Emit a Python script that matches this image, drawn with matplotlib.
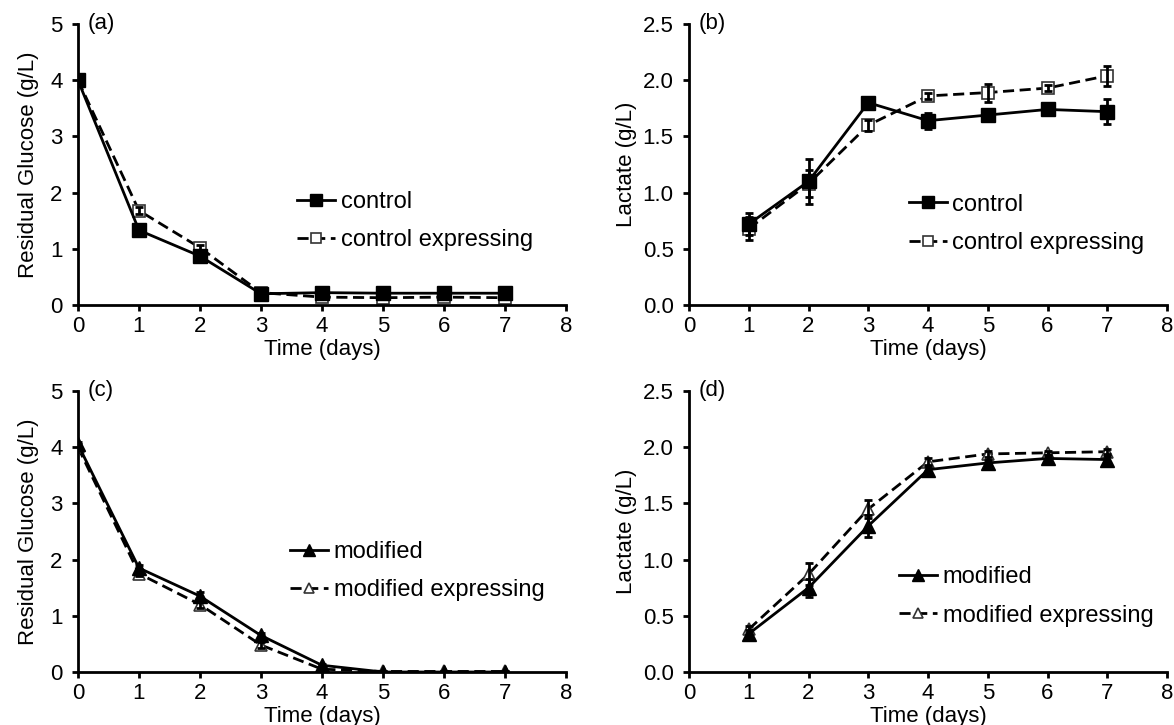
import numpy as np
import matplotlib.pyplot as plt
from matplotlib.lines import Line2D
from matplotlib.ticker import FormatStrFormatter

plt.rcParams['font.family'] = ['Liberation Sans', 'DejaVu Sans']
plt.rcParams['font.size'] = 16

# glucose, days 0-7
t_glu = [0, 1, 2, 3, 4, 5, 6, 7]
glu_ctrl = [4.0, 1.33, 0.87, 0.20, 0.22, 0.21, 0.21, 0.21]
glu_ctrl_err = [0.05, 0.06, 0.07, 0.04, 0.03, 0.03, 0.03, 0.03]
glu_ctrl_exp = [4.0, 1.68, 1.02, 0.22, 0.14, 0.13, 0.14, 0.13]
glu_ctrl_exp_err = [0.05, 0.06, 0.05, 0.03, 0.02, 0.02, 0.02, 0.02]
glu_mod = [4.05, 1.85, 1.35, 0.65, 0.12, 0.0, 0.0, 0.0]
glu_mod_err = [0.05, 0.06, 0.08, 0.05, 0.03, 0.01, 0.01, 0.01]
glu_mod_exp = [4.0, 1.75, 1.20, 0.48, 0.05, 0.01, 0.01, 0.01]
glu_mod_exp_err = [0.05, 0.05, 0.06, 0.05, 0.02, 0.01, 0.01, 0.01]

# lactate, days 1-7
t_lac = [1, 2, 3, 4, 5, 6, 7]
lac_ctrl = [0.72, 1.10, 1.80, 1.64, 1.69, 1.74, 1.72]
lac_ctrl_err = [0.10, 0.20, 0.04, 0.07, 0.03, 0.03, 0.11]
lac_ctrl_exp = [0.68, 1.08, 1.60, 1.86, 1.89, 1.93, 2.04]
lac_ctrl_exp_err = [0.10, 0.12, 0.05, 0.03, 0.08, 0.03, 0.09]
lac_mod = [0.34, 0.75, 1.30, 1.80, 1.86, 1.90, 1.89]
lac_mod_err = [0.03, 0.08, 0.10, 0.03, 0.03, 0.03, 0.03]
lac_mod_exp = [0.38, 0.87, 1.45, 1.87, 1.94, 1.95, 1.96]
lac_mod_exp_err = [0.03, 0.10, 0.08, 0.03, 0.03, 0.02, 0.02]

fig = plt.figure(figsize=(11.74, 7.25), dpi=100)
ax_a = fig.add_axes([0.0664, 0.5793, 0.4157, 0.3876])
ax_b = fig.add_axes([0.5869, 0.5793, 0.4072, 0.3876])
ax_c = fig.add_axes([0.0664, 0.0731, 0.4157, 0.3876])
ax_d = fig.add_axes([0.5869, 0.0731, 0.4072, 0.3876])

dash = (0, (4, 2))


def draw(ax, x, y1, e1, y2, e2, lab1, lab2, mk, ms_full, ms_open, pos):
    ax.plot(x, y2, color='black', lw=2, ls=dash, marker=mk, ms=ms_open,
            mfc='white', mec='#333333', mew=1.2, zorder=2)
    ax.plot(x, y1, color='black', lw=2, ls='-', marker=mk, ms=ms_full,
            mfc='black', mec='black', zorder=3)
    ax.errorbar(x, y2, yerr=e2, fmt='none', ecolor='black', elinewidth=2,
                capsize=3, capthick=2, zorder=4)
    ax.errorbar(x, y1, yerr=e1, fmt='none', ecolor='black', elinewidth=2,
                capsize=3, capthick=2, zorder=4)
    h1 = Line2D([], [], color='black', lw=2, ls='-', marker=mk, ms=ms_full - 1,
                mfc='black', mec='black')
    h2 = Line2D([], [], color='black', lw=2, ls=dash, marker=mk, ms=ms_open - 2,
                mfc='white', mec='#333333', mew=1.2)
    ax.legend([h1, h2], [lab1, lab2], loc='upper left', bbox_to_anchor=pos,
              frameon=False, fontsize=17, handlelength=1.6, handletextpad=0.25,
              labelspacing=0.7, borderaxespad=0)


draw(ax_a, t_glu, glu_ctrl, glu_ctrl_err, glu_ctrl_exp, glu_ctrl_exp_err,
     'control', 'control expressing', 's', 10, 9, (0.43, 0.44))
draw(ax_b, t_lac, lac_ctrl, lac_ctrl_err, lac_ctrl_exp, lac_ctrl_exp_err,
     'control', 'control expressing', 's', 10, 9, (0.44, 0.43))
draw(ax_c, t_glu, glu_mod, glu_mod_err, glu_mod_exp, glu_mod_exp_err,
     'modified', 'modified expressing', '^', 10, 9, (0.415, 0.50))
draw(ax_d, t_lac, lac_mod, lac_mod_err, lac_mod_exp, lac_mod_exp_err,
     'modified', 'modified expressing', '^', 10, 9, (0.42, 0.41))

for ax, tag in [(ax_a, '(a)'), (ax_b, '(b)'), (ax_c, '(c)'), (ax_d, '(d)')]:
    for s in ['top', 'right']:
        ax.spines[s].set_visible(False)
    for s in ['left', 'bottom']:
        ax.spines[s].set_linewidth(2)
    ax.tick_params(direction='out', length=4, width=2, labelsize=16)
    ax.tick_params(axis='y', pad=7)
    ax.tick_params(axis='x', pad=4)
    ax.set_xlim(0, 8)
    ax.set_xticks(range(0, 9))
    ax.set_xlabel('Time (days)', fontsize=16, labelpad=1)
    ax.text(0.02, 1.0, tag, transform=ax.transAxes, fontsize=16, va='center', ha='left')

for ax in [ax_a, ax_c]:
    ax.set_ylim(0, 5)
    ax.set_yticks(range(0, 6))
    ax.set_ylabel('Residual Glucose (g/L)', fontsize=16, labelpad=8)

for ax in [ax_b, ax_d]:
    ax.set_ylim(0, 2.5)
    ax.set_yticks(np.arange(0, 2.51, 0.5))
    ax.yaxis.set_major_formatter(FormatStrFormatter('%.1f'))
    ax.set_ylabel('Lactate (g/L)', fontsize=16, labelpad=4)

fig.savefig('out.png', dpi=100)
